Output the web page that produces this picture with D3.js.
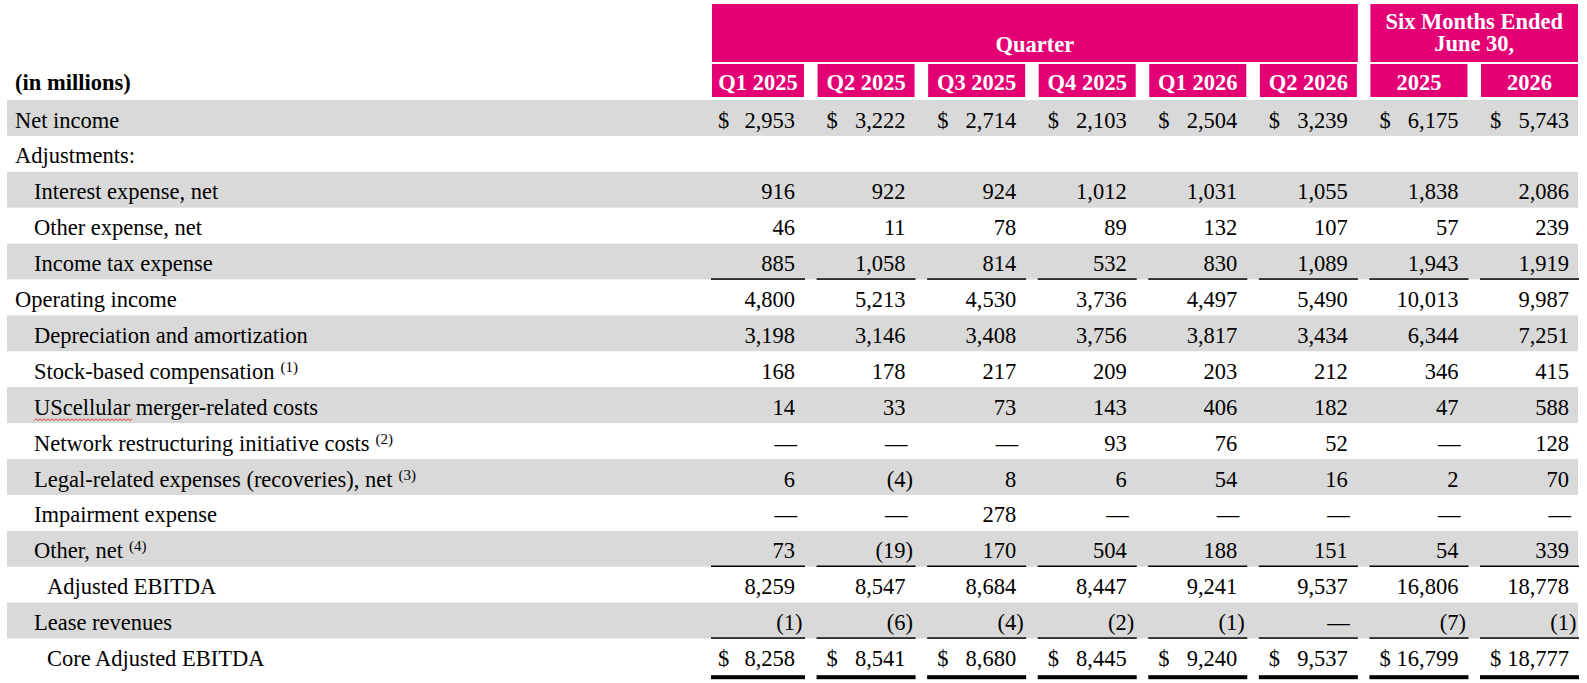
<!DOCTYPE html>
<html>
<head>
<meta charset="utf-8">
<script src="https://cdn.jsdelivr.net/npm/d3@7"></script>
<style>
  html, body { margin: 0; padding: 0; background: #fff; }
  svg { display: block; }
  text { font-family: "Liberation Serif", "Times New Roman", serif; }
</style>
</head>
<body>
<svg id="chart" width="1587" height="683"></svg>
<script>
// ---------- DATA ----------
const columns = ["Q1 2025", "Q2 2025", "Q3 2025", "Q4 2025", "Q1 2026", "Q2 2026", "2025", "2026"];
const groupLabels = [["Quarter"], ["Six Months Ended", "June 30,"]];
const groupSpans = [[0, 5], [6, 7]];
const unitLabel = "(in millions)";

const rowLabels = [
  "Net income", "Adjustments:", "Interest expense, net", "Other expense, net", "Income tax expense",
  "Operating income", "Depreciation and amortization", "Stock-based compensation",
  "UScellular merger-related costs", "Network restructuring initiative costs",
  "Legal-related expenses (recoveries), net", "Impairment expense", "Other, net",
  "Adjusted EBITDA", "Lease revenues", "Core Adjusted EBITDA"
];
const rowFootnotes = ["", "", "", "", "", "", "", "(1)", "", "(2)", "(3)", "", "(4)", "", "", ""];
const rowIndent = [0, 0, 1, 1, 1, 0, 1, 1, 1, 1, 1, 1, 1, 2, 1, 2];
const dollarRows = [0, 15];
const singleRuleRows = [4, 12, 14];
const doubleRuleRows = [15];
const headingRows = [1];
const spellFlagWord = "UScellular";

// null = "—"; heading row has no values
const q1_2025 = [2953, null, 916, 46, 885, 4800, 3198, 168, 14, null, 6, null, 73, 8259, -1, 8258];
const q2_2025 = [3222, null, 922, 11, 1058, 5213, 3146, 178, 33, null, -4, null, -19, 8547, -6, 8541];
const q3_2025 = [2714, null, 924, 78, 814, 4530, 3408, 217, 73, null, 8, 278, 170, 8684, -4, 8680];
const q4_2025 = [2103, null, 1012, 89, 532, 3736, 3756, 209, 143, 93, 6, null, 504, 8447, -2, 8445];
const q1_2026 = [2504, null, 1031, 132, 830, 4497, 3817, 203, 406, 76, 54, null, 188, 9241, -1, 9240];
const q2_2026 = [3239, null, 1055, 107, 1089, 5490, 3434, 212, 182, 52, 16, null, 151, 9537, null, 9537];
const six_2025 = [6175, null, 1838, 57, 1943, 10013, 6344, 346, 47, null, 2, null, 54, 16806, -7, 16799];
const six_2026 = [5743, null, 2086, 239, 1919, 9987, 7251, 415, 588, 128, 70, null, 339, 18778, -1, 18777];
const seriesValues = [q1_2025, q2_2025, q3_2025, q4_2025, q1_2026, q2_2026, six_2025, six_2026];

// ---------- STYLE ----------
const MAGENTA = "#e20074";
const GRAY = "#d9d9d9";
const FS = 22.5;

const svg = d3.select("#chart");
const x = d3.scaleBand().domain(columns).range([707, 1578]).paddingInner(0.1227).paddingOuter(0);
const bw = x.bandwidth();
const y = d3.scaleBand().domain(d3.range(rowLabels.length)).range([100, 674.4]).padding(0);
const bh = y.bandwidth();
const firstInset = 5;
const colLeft = (c, i) => x(c) + (i === 0 ? firstInset : 0);
const indentX = d3.scaleOrdinal().domain([0, 1, 2]).range([15, 34, 47]);
const fmt = d3.format(",");
const BASE = 27.5;

// gray banding
svg.append("g").selectAll("rect")
  .data(d3.range(rowLabels.length).filter(i => i % 2 === 0))
  .join("rect")
  .attr("x", 7).attr("width", 1578 - 7)
  .attr("y", i => y(i)).attr("height", bh)
  .attr("fill", GRAY);

// group banners
const gh = svg.append("g");
groupSpans.forEach((span, gi) => {
  const x0 = colLeft(columns[span[0]], span[0]);
  const x1 = x(columns[span[1]]) + bw + (gi === 0 ? 1 : 0);
  gh.append("rect").attr("x", x0).attr("y", 4).attr("width", x1 - x0).attr("height", 58).attr("fill", MAGENTA);
  const lines = groupLabels[gi];
  const t = gh.append("text")
    .attr("x", (x0 + x1) / 2).attr("text-anchor", "middle")
    .attr("fill", "#fff").attr("font-weight", "bold").attr("font-size", FS);
  if (lines.length === 1) {
    t.attr("y", 52).text(lines[0]);
  } else {
    lines.forEach((l, li) => {
      t.append("tspan").attr("x", (x0 + x1) / 2).attr("y", 29 + li * 22).text(l);
    });
  }
});

// sub-header boxes
const sh = svg.append("g");
columns.forEach((c, i) => {
  const x0 = colLeft(c, i), x1 = x(c) + bw;
  sh.append("rect").attr("x", x0).attr("y", 64).attr("width", x1 - x0).attr("height", 33).attr("fill", MAGENTA);
  sh.append("text").attr("x", (x0 + x1) / 2).attr("y", 90).attr("text-anchor", "middle")
    .attr("fill", "#fff").attr("font-weight", "bold").attr("font-size", FS).text(c);
});

svg.append("text").attr("x", 15).attr("y", 90).attr("font-weight", "bold").attr("font-size", FS).text(unitLabel);

// row labels
const lab = svg.append("g");
rowLabels.forEach((l, i) => {
  const t = lab.append("text").attr("x", indentX(rowIndent[i])).attr("y", y(i) + BASE).attr("font-size", FS);
  t.append("tspan").text(l);
  if (rowFootnotes[i]) {
    t.append("tspan").attr("font-size", 15).attr("dy", -7).attr("dx", 6).text(rowFootnotes[i]);
  }
  if (l.startsWith(spellFlagWord)) {
    const tmp = lab.append("text").attr("font-size", FS).text(spellFlagWord);
    const w = tmp.node().getComputedTextLength();
    tmp.remove();
    const x0 = indentX(rowIndent[i]), yy = y(i) + 32.5;
    const pts = d3.range(0, Math.ceil(w / 2) + 1).map(k => [x0 + k * 2, yy + (k % 2 ? -1 : 1)]);
    lab.append("path").attr("d", d3.line()(pts)).attr("fill", "none").attr("stroke", "#e0302a").attr("stroke-width", 1);
  }
});

// values
const vg = svg.append("g");
columns.forEach((c, ci) => {
  const xr = x(c) + bw - 9;
  const xl = x(c) + 9 + (ci === 0 ? 2 : 0);
  seriesValues[ci].forEach((v, ri) => {
    if (headingRows.includes(ri)) return;
    const by = y(ri) + BASE;
    if (dollarRows.includes(ri)) {
      vg.append("text").attr("x", xl).attr("y", by).attr("font-size", FS).text("$");
    }
    if (v === null) {
      vg.append("text").attr("x", xr + 2).attr("y", by).attr("text-anchor", "end").attr("font-size", FS).text("\u2014");
    } else if (v < 0) {
      vg.append("text").attr("x", xr).attr("y", by).attr("text-anchor", "end").attr("font-size", FS).text("(" + fmt(-v));
      vg.append("text").attr("x", xr).attr("y", by).attr("font-size", FS).text(")");
    } else {
      vg.append("text").attr("x", xr).attr("y", by).attr("text-anchor", "end").attr("font-size", FS).text(fmt(v));
    }
  });
});

// rules
const rg = svg.append("g");
columns.forEach((c, ci) => {
  const x0 = colLeft(c, ci) - 1, x1 = x(c) + bw + 1;
  singleRuleRows.forEach(ri => {
    rg.append("rect").attr("x", x0).attr("width", x1 - x0).attr("y", y(ri) + bh - 1.2).attr("height", 1.5).attr("fill", "#000");
  });
  doubleRuleRows.forEach(ri => {
    rg.append("rect").attr("x", x0).attr("width", x1 - x0).attr("y", y(ri) + bh + 0.8).attr("height", 4).attr("fill", "#000");
  });
});
</script>
</body>
</html>
